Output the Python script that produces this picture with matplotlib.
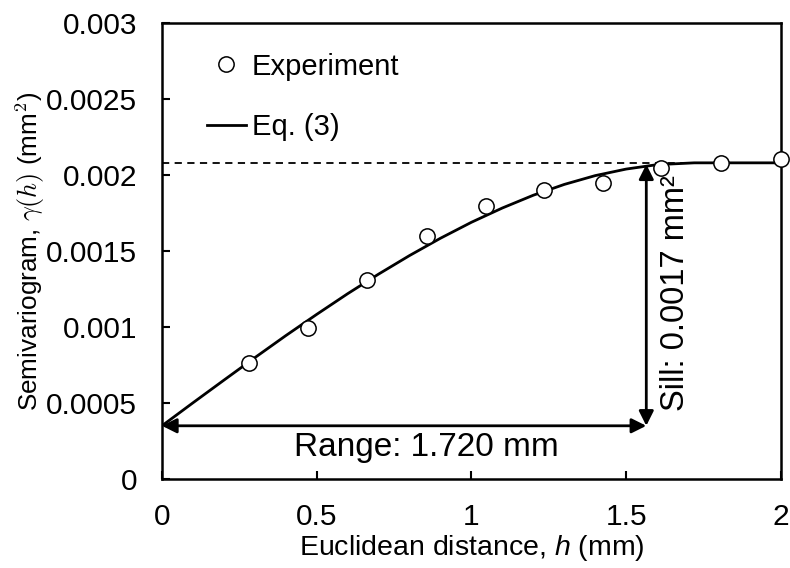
import numpy as np
import matplotlib
matplotlib.use("Agg")
import matplotlib.pyplot as plt
from matplotlib.ticker import MultipleLocator, FormatStrFormatter

plt.rcParams['font.family'] = ['Liberation Sans', 'DejaVu Sans']
plt.rcParams['mathtext.fontset'] = 'custom'
plt.rcParams['mathtext.rm'] = 'Liberation Sans'
plt.rcParams['mathtext.it'] = 'Liberation Sans:italic'

# Experimental semivariogram points
h_exp = [0.282, 0.473, 0.663, 0.857, 1.046, 1.235, 1.426, 1.614, 1.806, 2.0]
g_exp = [0.000761, 0.000991, 0.001311, 0.001600, 0.001796, 0.001900, 0.001945,
         0.002044, 0.002081, 0.002105]

# Eq. (3) fitted curve
h_fit = [0.0, 0.1, 0.2, 0.3, 0.4, 0.5, 0.6, 0.7, 0.8, 0.9, 1.0, 1.1, 1.2,
         1.3, 1.4, 1.5, 1.6, 1.72, 2.0]
g_fit = [0.00035, 0.000501, 0.000650, 0.000798, 0.000943, 0.001083, 0.001219,
         0.001348, 0.001470, 0.001584, 0.001689, 0.001783, 0.001867, 0.001938,
         0.001996, 0.002039, 0.002068, 0.00208, 0.00208]

sill_level = 0.00208
nugget = 0.00035
arrow_x = 1.565
arrow_top = 0.00207

fig = plt.figure(figsize=(7.9, 5.68), dpi=100)
ax = fig.add_axes([0.205, 0.1567, 0.7835, 0.8028])

ax.plot([0, 2], [sill_level, sill_level], color='black', lw=1.3,
        linestyle=(0, (4, 3)), zorder=1)
ax.plot(h_exp, g_exp, linestyle='none', marker='o', ms=11, mfc='white',
        mec='black', mew=1.1, label='Experiment', clip_on=False, zorder=3)
ax.plot(h_fit, g_fit, color='black', lw=2.0, label='Eq. (3)', zorder=2)

# range and sill arrows
arr = dict(arrowstyle='<|-|>', color='black', lw=2.0, mutation_scale=22,
           shrinkA=0, shrinkB=0)
ax.annotate('', xy=(0, nugget), xytext=(arrow_x, nugget), arrowprops=arr)
ax.annotate('', xy=(arrow_x, nugget), xytext=(arrow_x, arrow_top), arrowprops=arr)
ax.text(0.853, 0.00021, 'Range: 1.720 mm', fontsize=24, ha='center', va='center')
ax.text(1.66, 0.00122, 'Sill: 0.0017 mm²', fontsize=23.5, ha='center',
        va='center', rotation=90)

ax.set_xlim(0, 2)
ax.set_ylim(0, 0.003)
ax.xaxis.set_major_locator(MultipleLocator(0.5))
ax.yaxis.set_major_locator(MultipleLocator(0.0005))
ax.xaxis.set_major_formatter(FormatStrFormatter('%g'))
ax.yaxis.set_major_formatter(FormatStrFormatter('%g'))
ax.tick_params(direction='in', length=6, width=1.5, labelsize=21.5)
ax.tick_params(axis='y', pad=18)
ax.tick_params(axis='x', pad=17)
for s in ax.spines.values():
    s.set_linewidth(1.8)

ax.set_xlabel('Euclidean distance, $h$ (mm)', fontsize=20.5, labelpad=2)
ax.set_ylabel(r'Semivariogram, $\gamma(h)$ (mm$^2$)', fontsize=18.8,
              math_fontfamily='cm', labelpad=-1)

ax.legend(loc='upper left', bbox_to_anchor=(0.072, 0.935), frameon=False,
          fontsize=21, handlelength=1.35, handletextpad=0.2, labelspacing=1.1,
          borderpad=0, borderaxespad=0)

fig.savefig('out.png', dpi=100)
